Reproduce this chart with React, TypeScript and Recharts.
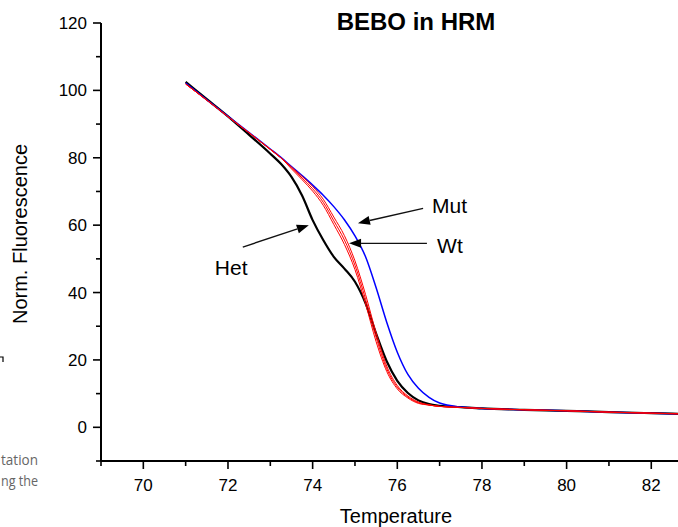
import React from "react";
import {
  LineChart,
  Line,
  XAxis,
  YAxis,
  ReferenceLine,
  ReferenceDot,
} from "recharts";

// temperatures sampled along the melt curves
const temps = [
  71, 71.5, 72, 72.5, 73, 73.25, 73.5, 73.75, 74, 74.25, 74.5, 74.75, 75, 75.25,
  75.5, 75.75, 76, 76.25, 76.5, 76.75, 77, 77.5, 78, 79, 80, 81, 82, 83,
];

const mut = [
  102.2, 97.2, 92.3, 87.5, 82.6, 80.1, 77.4, 74.7, 71.9, 68.9, 65.5, 61.6, 56.8,
  50.6, 41.4, 31.2, 22.3, 15.7, 11.6, 8.9, 7.2, 6.0, 5.6, 5.2, 4.9, 4.5, 4.2, 3.9,
];

// three Wt replicates (red)
const wt1 = [
  101.9, 97.1, 92.2, 87.4, 82.5, 80.0, 76.7, 73.5, 70.1, 65.9, 60.2, 54.3, 46.8,
  36.6, 25.4, 16.6, 11.4, 8.7, 7.1, 6.6, 6.2, 5.9, 5.6, 5.2, 4.9, 4.5, 4.2, 3.9,
];
const wt2 = [
  101.9, 97.1, 92.2, 87.4, 82.5, 80.0, 77.0, 74.0, 70.8, 66.8, 61.3, 55.6, 48.1,
  38.0, 26.7, 17.4, 11.9, 9.0, 7.3, 6.6, 6.2, 5.9, 5.6, 5.2, 4.9, 4.5, 4.2, 3.9,
];
const wt3 = [
  101.9, 97.1, 92.2, 87.4, 82.5, 80.0, 77.3, 74.5, 71.5, 67.7, 62.4, 56.9, 49.4,
  39.4, 28.0, 18.2, 12.4, 9.3, 7.5, 6.7, 6.2, 5.9, 5.6, 5.2, 4.9, 4.5, 4.2, 3.9,
];

const het = [
  102.5, 97.4, 92.3, 86.8, 81.2, 78.2, 74.3, 68.8, 61.5, 55.6, 50.6, 47.1, 43.2,
  36.8, 27.8, 19.6, 13.8, 10.2, 8.0, 6.9, 6.4, 6.0, 5.6, 5.2, 4.9, 4.5, 4.2, 3.9,
];

const xTicks = [69, 70, 71, 72, 73, 74, 75, 76, 77, 78, 79, 80, 81, 82, 83];
const yTicks = [-10, 0, 10, 20, 30, 40, 50, 60, 70, 80, 90, 100, 110, 120];

// arrow annotations: label anchor, arrow tail, arrow tip (data coords)
const notes = [
  { text: "Mut", tx: 76.82, ty: 63.6, from: [76.61, 65.0], to: [75.07, 60.6] },
  { text: "Wt", tx: 76.94, ty: 51.7, from: [76.7, 54.6], to: [74.86, 54.6] },
  { text: "Het", tx: 71.69, ty: 45.1, from: [72.35, 53.5], to: [73.91, 60.0] },
];

const data = temps.map((t, i) => ({
  t,
  mut: mut[i],
  wt1: wt1[i],
  wt2: wt2[i],
  wt3: wt3[i],
  het: het[i],
}));

const FONT = "'Liberation Sans', Arial, sans-serif";

const XTick = (props: any) => {
  const { x, y, payload } = props;
  const v = payload.value;
  const major = v % 2 === 0;
  return (
    <g>
      <line x1={x} y1={y} x2={x} y2={y + (major ? 8 : 5)} stroke="#000" strokeWidth={1.6} />
      {major && (
        <text x={x} y={y + 30} textAnchor="middle" fontSize={17} fontFamily={FONT} fill="#000">
          {v}
        </text>
      )}
    </g>
  );
};

const YTick = (props: any) => {
  const { x, y, payload } = props;
  const v = payload.value;
  const major = v % 20 === 0;
  return (
    <g>
      <line x1={x} y1={y} x2={x - (major ? 8 : 5)} y2={y} stroke="#000" strokeWidth={1.6} />
      {major && (
        <text x={x - 14} y={y + 6} textAnchor="end" fontSize={17} fontFamily={FONT} fill="#000">
          {v}
        </text>
      )}
    </g>
  );
};

const Arrow = (p: any) => {
  const { x1, y1, x2, y2 } = p;
  const a = Math.atan2(y2 - y1, x2 - x1);
  const len = 12;
  const half = 4.5;
  const bx = x2 - len * Math.cos(a);
  const by = y2 - len * Math.sin(a);
  const px = -Math.sin(a) * half;
  const py = Math.cos(a) * half;
  return (
    <g>
      <line x1={x1} y1={y1} x2={bx} y2={by} stroke="#111" strokeWidth={1.4} />
      <polygon points={`${x2},${y2} ${bx + px},${by + py} ${bx - px},${by - py}`} fill="#000" />
    </g>
  );
};

export default function App() {
  return (
    <div
      style={{
        position: "absolute",
        left: 0,
        top: 0,
        width: 678,
        height: 527,
        overflow: "hidden",
        background: "#fff",
      }}
    >
      <LineChart
        width={700}
        height={527}
        data={data}
        margin={{ top: 23, right: 6.4, left: 41, bottom: 26 }}
      >
        <XAxis
          dataKey="t"
          type="number"
          domain={[69, 83]}
          ticks={xTicks}
          interval={0}
          allowDataOverflow
          height={40}
          tickSize={0}
          tickMargin={0}
          tickLine={false}
          axisLine={{ stroke: "#000", strokeWidth: 2 }}
          tick={<XTick />}
        />
        <YAxis
          type="number"
          domain={[-10, 120]}
          ticks={yTicks}
          interval={0}
          allowDataOverflow
          width={60}
          tickSize={0}
          tickMargin={0}
          tickLine={false}
          axisLine={{ stroke: "#000", strokeWidth: 2 }}
          tick={<YTick />}
        />
        <Line type="monotone" dataKey="het" stroke="#000" strokeWidth={2.2} dot={false} isAnimationActive={false} />
        <Line type="monotone" dataKey="mut" stroke="#0000ff" strokeWidth={1.5} dot={false} isAnimationActive={false} />
        <Line type="monotone" dataKey="wt1" stroke="#ff0000" strokeWidth={1} dot={false} isAnimationActive={false} />
        <Line type="monotone" dataKey="wt2" stroke="#ff0000" strokeWidth={1} dot={false} isAnimationActive={false} />
        <Line type="monotone" dataKey="wt3" stroke="#ff0000" strokeWidth={1} dot={false} isAnimationActive={false} />
        {notes.map((n) => (
          <ReferenceLine
            key={n.text + "-arrow"}
            segment={[
              { x: n.from[0], y: n.from[1] },
              { x: n.to[0], y: n.to[1] },
            ]}
            shape={Arrow}
          />
        ))}
        {notes.map((n) => (
          <ReferenceDot
            key={n.text}
            x={n.tx}
            y={n.ty}
            r={0}
            shape={(p: any) => (
              <text x={p.cx} y={p.cy} fontSize={21} fontFamily={FONT} fill="#000">
                {n.text}
              </text>
            )}
          />
        ))}
      </LineChart>
      <svg
        width={678}
        height={527}
        style={{ position: "absolute", left: 0, top: 0, pointerEvents: "none" }}
      >
        <text x={416} y={30} textAnchor="middle" fontSize={24} fontWeight="bold" fontFamily={FONT}>
          BEBO in HRM
        </text>
        <text
          x={27}
          y={234}
          transform="rotate(-90, 27, 234)"
          textAnchor="middle"
          fontSize={20}
          fontFamily={FONT}
        >
          Norm. Fluorescence
        </text>
        <text x={396} y={523} textAnchor="middle" fontSize={20} fontFamily={FONT}>
          Temperature
        </text>
        <path d="M0 357 H3 V362" stroke="#000" strokeWidth={1.2} fill="none" />
        <text
          x={1}
          y={465}
          fontSize={15}
          textLength={37}
          lengthAdjust="spacingAndGlyphs"
          fontFamily="'Open Sans', sans-serif"
          fill="#666"
        >
          tation
        </text>
        <text
          x={1}
          y={486}
          fontSize={15}
          textLength={37}
          lengthAdjust="spacingAndGlyphs"
          fontFamily="'Open Sans', sans-serif"
          fill="#666"
        >
          ng the
        </text>
      </svg>
    </div>
  );
}
